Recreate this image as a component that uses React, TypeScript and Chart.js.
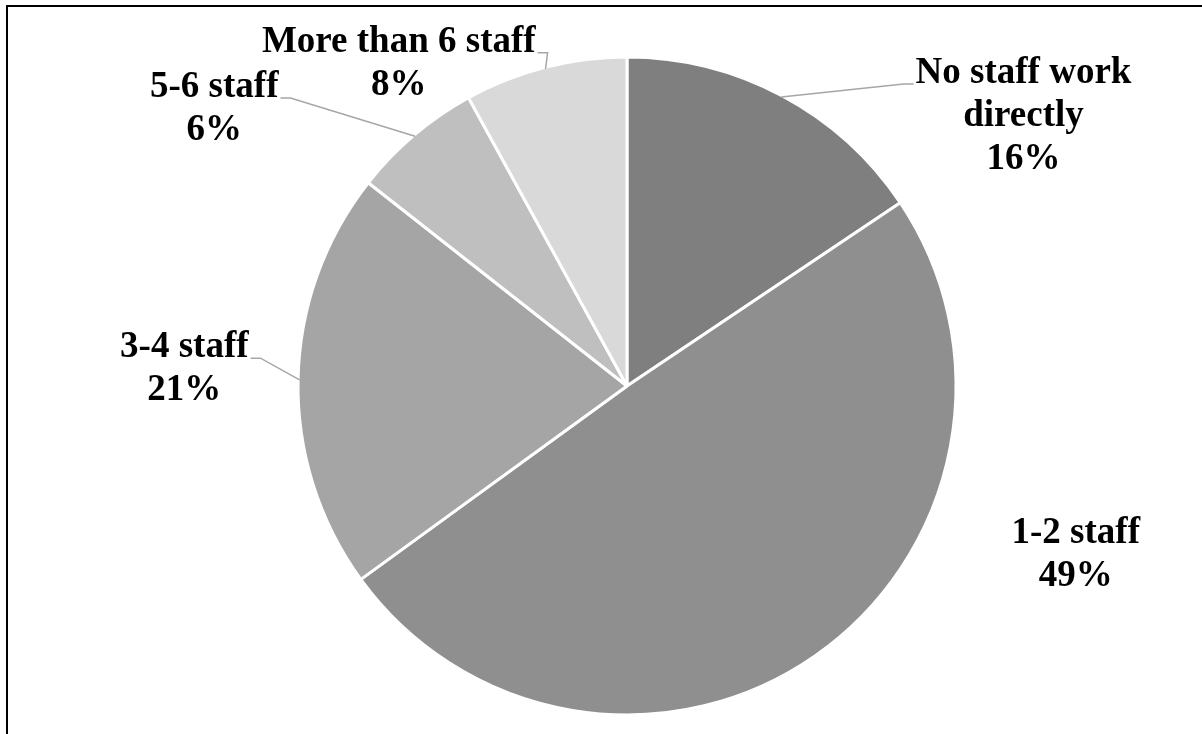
import React, { useEffect, useRef } from "react";
import { Chart, registerables } from "chart.js";

Chart.register(...registerables);

// ---- data ----
const categories = ["No staff work directly", "1-2 staff", "3-4 staff", "5-6 staff", "More than 6 staff"];
const labelLines = [["No staff work", "directly"], ["1-2 staff"], ["3-4 staff"], ["5-6 staff"], ["More than 6 staff"]];
const shares = [15.6, 49.4, 20.6, 6.4, 8.0];
const sliceColors = ["#7f7f7f", "#8f8f8f", "#a5a5a5", "#bfbfbf", "#d9d9d9"];

// ---- label placement (polar, relative to pie centre & radius) ----
const labelAngles = [-34.44, 20.3, 182.5, 214.1, 234.9];
const labelDistances = [1.468, 1.461, 1.353, 1.522, 1.212];
const leaderSides = ["left", "none", "right", "right", "right"];

const titleText = "Figure 4: Agencies by number of paid staff working directly with young people";

const FONT = 'bold 37px "Liberation Serif", "Times New Roman", serif';
const LINE_H = 43;

const labelPlugin = {
  id: "pieLabels",
  afterDatasetsDraw(chart: any) {
    const ctx = chart.ctx as CanvasRenderingContext2D;
    const meta = chart.getDatasetMeta(0);
    ctx.save();
    ctx.font = FONT;
    ctx.textAlign = "center";
    ctx.textBaseline = "alphabetic";
    meta.data.forEach((arc: any, i: number) => {
      const { x, y, outerRadius, startAngle, endAngle } = arc.getProps(
        ["x", "y", "outerRadius", "startAngle", "endAngle"],
        true
      );
      const R = outerRadius - 1.5;
      const a = (labelAngles[i] * Math.PI) / 180;
      const d = labelDistances[i] * R;
      const lx = x + d * Math.cos(a);
      const ly = y + d * Math.sin(a);
      const lines = [...labelLines[i], Math.round(shares[i]) + "%"];
      const n = lines.length;
      const firstBaseline = ly - ((n - 1) * LINE_H) / 2 + 12;
      ctx.fillStyle = "#000000";
      lines.forEach((t, k) => ctx.fillText(t, lx, firstBaseline + k * LINE_H));

      const side = leaderSides[i];
      if (side !== "none") {
        const w = ctx.measureText(lines[0]).width;
        const mid = (startAngle + endAngle) / 2;
        const ex = x + R * Math.cos(mid);
        const ey = y + R * Math.sin(mid);
        const sy = firstBaseline + 1;
        let sx: number, hx: number;
        if (side === "right") {
          sx = lx + w / 2 + 2;
          hx = sx + 10;
        } else {
          sx = lx - w / 2 - 2;
          hx = sx - 10;
        }
        ctx.beginPath();
        ctx.moveTo(sx, sy);
        ctx.lineTo(hx, sy);
        ctx.lineTo(ex, ey);
        ctx.strokeStyle = "#a6a6a6";
        ctx.lineWidth = 1.5;
        ctx.stroke();
      }
    });
    ctx.restore();
  },
};

export default function App() {
  const canvasRef = useRef<HTMLCanvasElement | null>(null);

  useEffect(() => {
    if (!canvasRef.current) return;
    const chart = new Chart(canvasRef.current, {
      type: "pie",
      data: {
        labels: categories,
        datasets: [
          {
            data: shares,
            backgroundColor: sliceColors,
            borderColor: "#ffffff",
            borderWidth: 3,
          },
        ],
      },
      options: {
        responsive: false,
        animation: false,
        devicePixelRatio: 1,
        radius: 329,
        layout: { padding: { left: 252, right: 200, top: 59, bottom: 21 } },
        plugins: {
          legend: { display: false },
          tooltip: { enabled: false },
        },
      } as any,
      plugins: [labelPlugin],
    });
    return () => chart.destroy();
  }, []);

  return (
    <div
      style={{
        position: "fixed",
        left: 0,
        top: 0,
        width: 1202,
        height: 734,
        overflow: "hidden",
        background: "#ffffff",
      }}
    >
      <div
        style={{
          position: "absolute",
          left: 10,
          top: -27,
          font: 'bold 26px "Liberation Serif", "Times New Roman", serif',
          lineHeight: "26px",
          whiteSpace: "nowrap",
          color: "#000",
        }}
      >
        {titleText}
      </div>
      <div
        style={{
          position: "absolute",
          left: 6,
          top: 5,
          width: 1300,
          height: 900,
          border: "2px solid #000",
          boxSizing: "border-box",
          background: "#ffffff",
        }}
      />
      <canvas
        ref={canvasRef}
        width={1202}
        height={734}
        style={{ position: "absolute", left: 0, top: 0, width: 1202, height: 734 }}
      />
    </div>
  );
}
